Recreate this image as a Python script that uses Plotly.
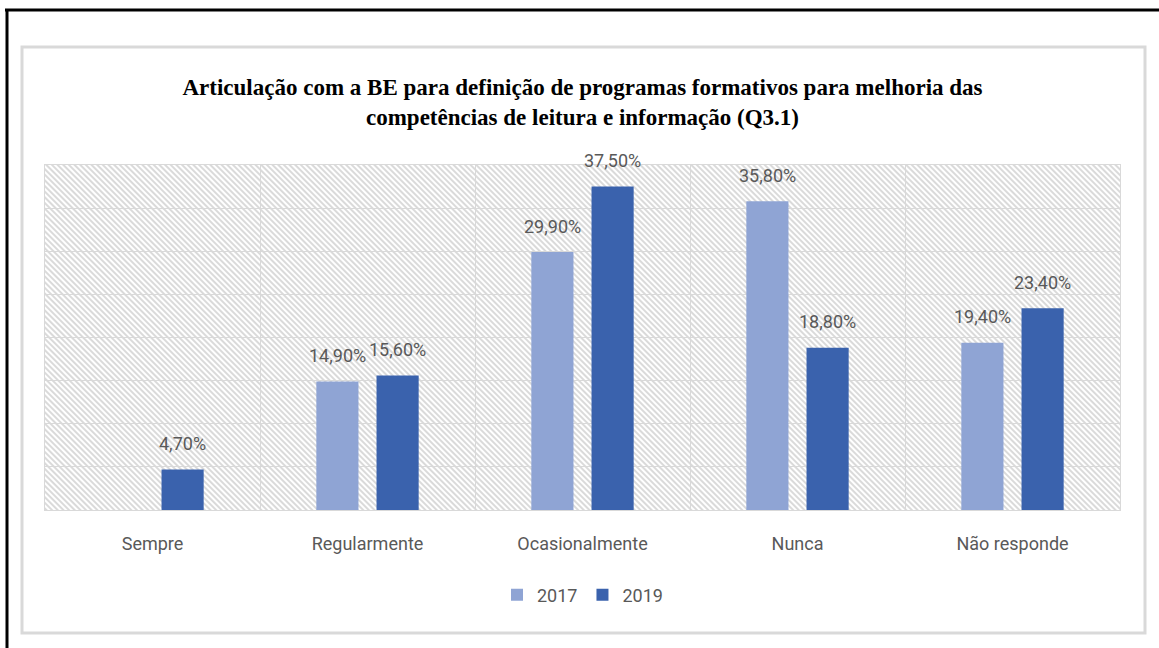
import base64
import plotly.graph_objects as go

# ---- data ----
categories = ["Sempre", "Regularmente", "Ocasionalmente", "Nunca", "Não responde"]
series_names = ["2017", "2019"]
values_2017 = [None, 14.9, 29.9, 35.8, 19.4]
values_2019 = [4.7, 15.6, 37.5, 18.8, 23.4]
y_range = [0, 40]
y_step = 5

title_text = ("Articulação com a BE para definição de programas formativos para melhoria das<br>"
              "competências de leitura e informação (Q3.1)")

color_2017 = "#8FA4D4"
color_2019 = "#3A62AD"
text_color = "#595959"
grid_color = "#d9d9d9"
label_font = "Roboto"

W, H = 1159, 648
ml, mr, mt, mb = 45, 39, 165, 138
pw, ph = W - ml - mr, H - mt - mb
bargap = 0.44
bargroupgap = 0.3


def fmt(v):
    return f"{v:.2f}%".replace(".", ",")


fig = go.Figure()
series = [(series_names[0], values_2017, color_2017),
          (series_names[1], values_2019, color_2019)]
for name, vals, col in series:
    fig.add_trace(go.Bar(
        x=categories, y=vals, name=name,
        marker=dict(color=col, line=dict(width=0)),
        hoverinfo="x+y+name",
    ))

# data labels above the bars, positioned via the axes (category index +/- slot offset)
annotations = []
n_series = len(series)
slot = (1 - bargap) / n_series
for s_idx, (name, vals, col) in enumerate(series):
    off = (s_idx - (n_series - 1) / 2) * slot
    for i, v in enumerate(vals):
        if v is None:
            continue
        annotations.append(dict(
            x=i + off, y=v, xref="x", yref="y", text=fmt(v), showarrow=False,
            xanchor="center", yanchor="middle", yshift=26,
            font=dict(family=label_font, size=18, color=text_color),
        ))

# hatched plot background (decoration)
svg = (f'<svg xmlns="http://www.w3.org/2000/svg" width="{pw}" height="{ph}">'
       '<defs><pattern id="h" width="4" height="4" patternUnits="userSpaceOnUse" '
       'patternTransform="rotate(-45)">'
       '<rect width="4" height="4" fill="white"/>'
       '<line x1="1" y1="0" x2="1" y2="4" stroke="#d6d6d6" stroke-width="1.8"/>'
       '</pattern></defs>'
       f'<rect width="{pw}" height="{ph}" fill="url(#h)"/></svg>')
src = "data:image/svg+xml;base64," + base64.b64encode(svg.encode()).decode()


def px_x(p):
    return (p - ml) / pw


def px_y(p):
    return (H - mb - p) / ph


shapes = [
    # outer light gray frame
    dict(type="rect", xref="paper", yref="paper",
         x0=px_x(22), x1=px_x(1145), y0=px_y(633), y1=px_y(47),
         line=dict(color="#d9d9d9", width=3), layer="below"),
    # black page border (top and left)
    dict(type="line", xref="paper", yref="paper",
         x0=px_x(5), x1=px_x(1160), y0=px_y(10), y1=px_y(10),
         line=dict(color="black", width=3)),
    dict(type="line", xref="paper", yref="paper",
         x0=px_x(7), x1=px_x(7), y0=px_y(9), y1=px_y(650),
         line=dict(color="black", width=3)),
]

fig.update_layout(
    width=W, height=H,
    margin=dict(l=ml, r=mr, t=mt, b=mb, autoexpand=False),
    paper_bgcolor="white", plot_bgcolor="white",
    barmode="group", bargap=bargap, bargroupgap=bargroupgap,
    title=dict(text=title_text, x=0.5, xref="paper", xanchor="center",
               y=1 - 95 / H, yref="container", yanchor="middle",
               font=dict(family="Liberation Serif", size=23, color="black", weight="bold")),
    legend=dict(orientation="h", x=0.5, xanchor="center", y=px_y(595), yanchor="middle",
                font=dict(family=label_font, size=18, color=text_color),
                itemwidth=30, traceorder="normal", bgcolor="rgba(0,0,0,0)"),
    images=[dict(source=src, xref="paper", yref="paper", x=0, y=1, sizex=1, sizey=1,
                 xanchor="left", yanchor="top", sizing="stretch", layer="below")],
    shapes=shapes,
    annotations=annotations,
    showlegend=True,
)
fig.update_xaxes(
    type="category", range=[-0.5, len(categories) - 0.5],
    tickson="boundaries", showgrid=True, gridcolor=grid_color, gridwidth=1,
    showline=True, mirror=True, linecolor=grid_color, linewidth=1,
    ticks="", ticklabelstandoff=17,
    tickfont=dict(family=label_font, size=18, color=text_color),
)
fig.update_yaxes(
    range=y_range, dtick=y_step, tick0=0, showgrid=True, gridcolor=grid_color, gridwidth=1,
    showticklabels=False, zeroline=False,
    showline=True, mirror=True, linecolor=grid_color, linewidth=1,
)

fig.write_html("out.html", config={"displayModeBar": False},
               post_script="document.body.style.margin='0';")
